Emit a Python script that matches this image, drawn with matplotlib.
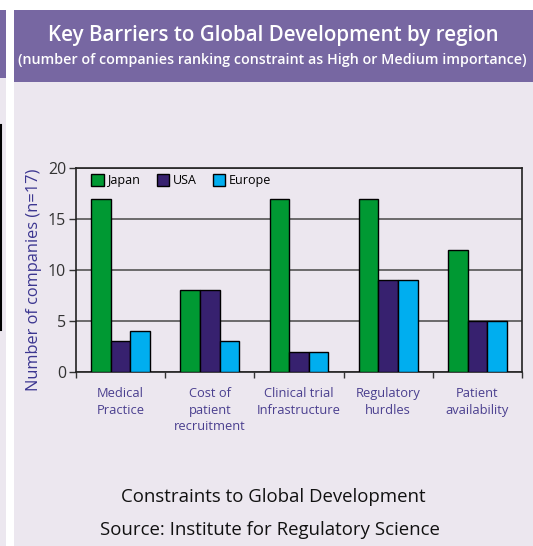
import matplotlib
matplotlib.use("Agg")
import matplotlib.pyplot as plt
import numpy as np
from matplotlib.patches import Rectangle
from matplotlib.lines import Line2D

plt.rcParams['font.family'] = ['Open Sans', 'DejaVu Sans']

categories = ["Medical\nPractice", "Cost of\npatient\nrecruitment", "Clinical trial\nInfrastructure",
              "Regulatory\nhurdles", "Patient\navailability"]
series_names = ["Japan", "USA", "Europe"]
japan = [17, 8, 17, 17, 12]
usa = [3, 8, 2, 9, 5]
europe = [4, 3, 2, 9, 5]
yticks = [0, 5, 10, 15, 20]

colors = ["#009933", "#37216F", "#00AEEF"]
PURPLE = "#7767A2"
LAV = "#ECE7EF"

W, H = 533, 546
fig = plt.figure(figsize=(W/100, H/100), dpi=100)
fig.patch.set_facecolor("white")

def rect(x0, y0, x1, y1, color):
    fig.patches.append(Rectangle((x0/W, 1-y1/H), (x1-x0)/W, (y1-y0)/H,
                                 transform=fig.transFigure, facecolor=color,
                                 edgecolor='none', zorder=-5))

rect(0, 10, 6, 546, LAV)
rect(0, 10, 6, 78, PURPLE)
rect(14, 10, 533, 546, LAV)
rect(14, 10, 533, 82, PURPLE)
fig.lines.append(Line2D([1/W, 1/W], [1-125/H, 1-330/H], transform=fig.transFigure,
                        color='black', lw=1.5, zorder=-4))

fig.text(273/W, 1-35/H, "Key Barriers to Global Development by region",
         ha='center', va='center', color='white', fontsize=14.8, fontweight='semibold')
fig.text(272/W, 1-60/H,
         "(number of companies ranking constraint as High or Medium importance)",
         ha='center', va='center', color='white', fontsize=10.3, fontweight='semibold')

ax = fig.add_axes([76/W, 1-372/H, (522-76)/W, (372-168)/H])
ax.set_facecolor(LAV)
x = np.arange(len(categories))
bw = 0.22
for i, (name, vals) in enumerate(zip(series_names, [japan, usa, europe])):
    ax.bar(x + (i-1)*bw, vals, bw, color=colors[i], edgecolor='black', lw=1.0,
           label=name, zorder=3)

ax.set_xlim(-0.5, len(categories)-0.5)
ax.set_ylim(0, 20)
ax.set_yticks(yticks)
ax.set_yticklabels([str(v) for v in yticks], color='#333333', fontsize=11.5)
ax.yaxis.grid(True, color='#555555', lw=1.2, zorder=1)
ax.tick_params(axis='y', direction='out', length=5, width=1, color='#333333', pad=2)

ax.set_xticks(np.arange(len(categories)+1) - 0.5)
ax.set_xticklabels([])
ax.tick_params(axis='x', which='major', direction='out', length=4, width=1, color='#333333')
ax.set_xticks(x, minor=True)
ax.set_xticklabels(categories, minor=True, color='#4A3F8F', fontsize=9.3, linespacing=1.35)
ax.tick_params(axis='x', which='minor', length=0, pad=11)

for s in ['left', 'bottom', 'top', 'right']:
    ax.spines[s].set_color('#222222')
    ax.spines[s].set_linewidth(1.2)

ax.set_ylabel("Number of companies (n=17)", color='#3B3590', fontsize=11.8)
ax.yaxis.set_label_coords((42-76)/446, 0.45)

leg = ax.legend(loc='upper left', ncol=3, frameon=False, fontsize=9,
                handlelength=1.0, handleheight=1.0, handletextpad=0.3,
                columnspacing=1.3, borderaxespad=0.1, bbox_to_anchor=(0.02, 1.0))

fig.text(273/W, 1-497/H, "Constraints to Global Development", ha='center', va='center',
         color='#111111', fontsize=13.4)
fig.text(270/W, 1-530/H, "Source: Institute for Regulatory Science", ha='center', va='center',
         color='#111111', fontsize=13.4)

fig.savefig("out.png", dpi=100)
